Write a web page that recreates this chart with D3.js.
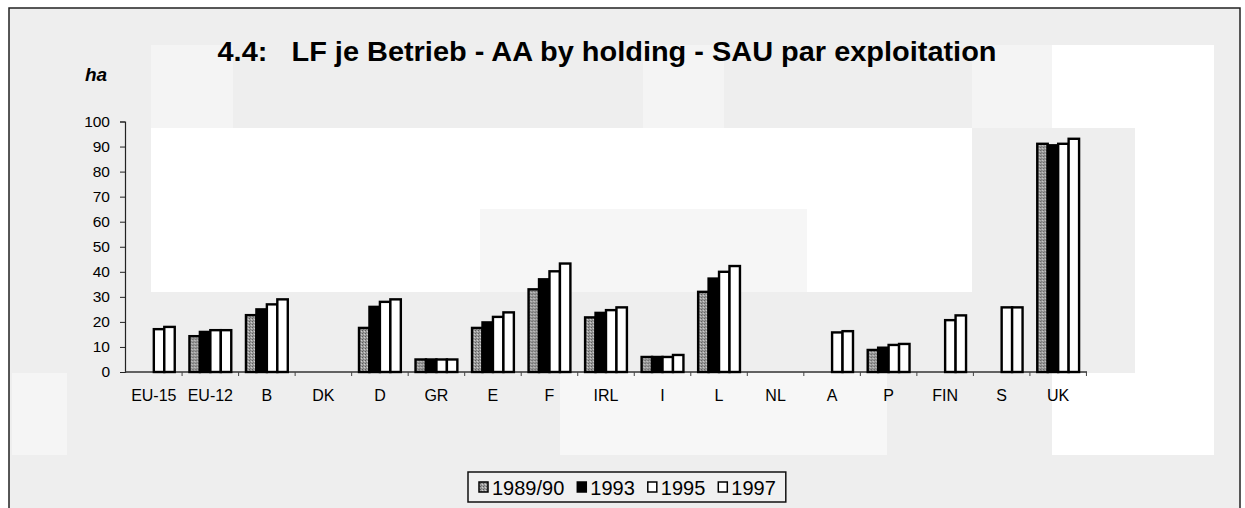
<!DOCTYPE html>
<html>
<head>
<meta charset="utf-8">
<script src="https://cdn.jsdelivr.net/npm/d3@7"></script>
<style>
  html, body { margin: 0; padding: 0; background: #fff; }
  svg { display: block; font-family: "Liberation Sans", Arial, sans-serif; }
</style>
</head>
<body>
<svg id="chart" width="1245" height="508"></svg>
<script>
// categories and series (ha per holding), null = no data
var countries = ["EU-15", "EU-12", "B", "DK", "D", "GR", "E", "F", "IRL", "I", "L", "NL", "A", "P", "FIN", "S", "UK"];
var years = ["1989/90", "1993", "1995", "1997"];
var v1989 = [null, 14.3, 22.7, null, 17.6, 5.0, 17.6, 33.0, 21.8, 6.0, 32.0, null, null, 8.8, null, null, 91.1];
var v1993 = [null, 16.0, 25.0, null, 26.0, 5.0, 19.8, 37.0, 23.6, 6.0, 37.3, null, null, 9.7, null, null, 90.5];
var v1995 = [17.1, 16.7, 27.0, null, 28.0, 5.0, 22.0, 40.2, 24.7, 6.0, 40.0, null, 15.8, 10.8, 20.7, 25.8, 91.1];
var v1997 = [18.0, 16.7, 29.0, null, 29.0, 5.0, 23.8, 43.3, 25.8, 6.8, 42.3, null, 16.3, 11.2, 22.6, 25.8, 93.1];
var yTicks = [0, 10, 20, 30, 40, 50, 60, 70, 80, 90, 100];

var title = "4.4:\u00a0\u00a0 LF je Betrieb - AA by holding - SAU par exploitation";
var unit = "ha";

(function () {
  "use strict";
  var svg = d3.select("#chart");
  var series = [v1989, v1993, v1995, v1997];
  var fills = ["url(#speckle)", "#000", "#fff", "#fff"];

  // speckled grey fill for the first series
  var defs = svg.append("defs");
  var pat = defs.append("pattern").attr("id", "speckle")
    .attr("width", 3).attr("height", 3).attr("patternUnits", "userSpaceOnUse");
  pat.append("rect").attr("width", 3).attr("height", 3).attr("fill", "#9c9c9c");
  pat.append("rect").attr("x", 0).attr("y", 0).attr("width", 1).attr("height", 1).attr("fill", "#5a5a5a");
  pat.append("rect").attr("x", 2).attr("y", 1).attr("width", 1).attr("height", 1).attr("fill", "#d0d0d0");
  pat.append("rect").attr("x", 1).attr("y", 2).attr("width", 1).attr("height", 1).attr("fill", "#777");

  // page frame + scanned background
  svg.append("rect").attr("x", 9).attr("y", 8).attr("width", 1231).attr("height", 510)
    .attr("fill", "#eeeeee").attr("stroke", "#222").attr("stroke-width", 1.5);
  // lighter patches left over from the scan
  var patches = [
    [151, 128, 821, 164, "#ffffff"], [480, 209, 327, 83, "#f6f6f6"],
    [1052, 45, 162, 83, "#ffffff"], [1135, 128, 79, 327, "#ffffff"],
    [1052, 373, 83, 82, "#ffffff"], [560, 373, 327, 82, "#f7f7f7"],
    [12, 373, 55, 82, "#f5f5f5"], [151, 45, 82, 83, "#f4f4f4"],
    [643, 45, 81, 83, "#f4f4f4"], [972, 45, 80, 83, "#f4f4f4"]
  ];
  svg.selectAll("rect.patch").data(patches).enter().append("rect")
    .attr("class", "patch")
    .attr("x", function (d) { return d[0]; }).attr("y", function (d) { return d[1]; })
    .attr("width", function (d) { return d[2]; }).attr("height", function (d) { return d[3]; })
    .attr("fill", function (d) { return d[4]; });

  var x0 = d3.scaleBand().domain(countries).range([125, 1087]).paddingInner(0.26).paddingOuter(0.14);
  var x1 = d3.scaleBand().domain(years).range([0, x0.bandwidth()]);
  var y = d3.scaleLinear().domain([0, 100]).range([372, 121.5]);

  // title
  svg.append("text").attr("x", 607).attr("y", 61).attr("text-anchor", "middle")
    .attr("font-size", 27).attr("font-weight", "bold")
    .attr("textLength", 779).attr("lengthAdjust", "spacingAndGlyphs")
    .text(title);
  svg.append("text").attr("x", 85).attr("y", 81)
    .attr("font-size", 19).attr("font-weight", "bold").attr("font-style", "italic")
    .text(unit);

  // y axis
  var yAxis = d3.axisLeft(y).tickValues(yTicks).tickSize(5).tickPadding(10);
  var gy = svg.append("g").attr("transform", "translate(125,0)").call(yAxis);
  gy.select(".domain").attr("stroke", "#222").attr("stroke-width", 1.2);
  gy.selectAll(".tick line").attr("stroke", "#222");
  gy.selectAll(".tick text").attr("font-size", 15.5).attr("fill", "#000")
    .attr("font-family", "Liberation Sans, Arial, sans-serif");

  // x baseline with ticks between groups
  svg.append("line").attr("x1", 125).attr("x2", 1087).attr("y1", y(0)).attr("y2", y(0))
    .attr("stroke", "#333").attr("stroke-width", 1.5);
  var step = x0.step();
  svg.selectAll("line.xtick").data(countries).enter().append("line")
    .attr("class", "xtick")
    .attr("x1", function (d) { return x0(d) - x0.paddingInner() * step / 2 + step; })
    .attr("x2", function (d) { return x0(d) - x0.paddingInner() * step / 2 + step; })
    .attr("y1", y(0)).attr("y2", y(0) + 4).attr("stroke", "#444");

  svg.selectAll("text.xlab").data(countries).enter().append("text")
    .attr("class", "xlab")
    .attr("x", function (d) { return x0(d) + x0.bandwidth() / 2; })
    .attr("y", 401).attr("text-anchor", "middle").attr("font-size", 16)
    .text(function (d) { return d; });

  // bars
  var groups = svg.selectAll("g.grp").data(countries).enter().append("g")
    .attr("class", "grp")
    .attr("transform", function (d) { return "translate(" + x0(d) + ",0)"; });
  groups.selectAll("rect").data(function (d, i) {
      return years.map(function (yr, k) { return { year: yr, value: series[k][i], k: k }; });
    })
    .enter().filter(function (d) { return d.value !== null; })
    .append("rect")
    .attr("x", function (d) { return x1(d.year); })
    .attr("y", function (d) { return y(d.value); })
    .attr("width", x1.bandwidth())
    .attr("height", function (d) { return y(0) - y(d.value); })
    .attr("fill", function (d) { return fills[d.k]; })
    .attr("stroke", "#000").attr("stroke-width", 2.4);

  // legend
  var lg = svg.append("g");
  var box = lg.append("rect").attr("fill", "#f0f0f0").attr("stroke", "#111").attr("stroke-width", 1.5);
  var cx = 479;
  years.forEach(function (yr, k) {
    lg.append("rect").attr("x", cx).attr("y", 482).attr("width", 9).attr("height", 10)
      .attr("fill", fills[k]).attr("stroke", "#000").attr("stroke-width", 1.5);
    var t = lg.append("text").attr("x", cx + 13).attr("y", 495).attr("font-size", 20).text(yr);
    cx += 13 + t.node().getComputedTextLength() + 13;
  });
  box.attr("x", 468).attr("y", 472).attr("width", cx - 468 - 3).attr("height", 30);
})();
</script>
</body>
</html>
